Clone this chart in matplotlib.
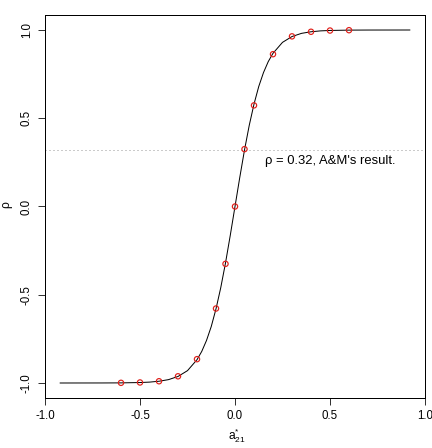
import matplotlib
matplotlib.use("Agg")
import matplotlib.pyplot as plt

# curve
curve_a = [-0.92, -0.7, -0.6, -0.5, -0.45, -0.4, -0.35, -0.3, -0.25, -0.2,
           -0.175, -0.15, -0.125, -0.1, -0.075, -0.05, -0.025, 0.0,
           0.025, 0.05, 0.075, 0.1, 0.125, 0.15, 0.175, 0.2, 0.25, 0.3,
           0.35, 0.4, 0.45, 0.5, 0.6, 0.7, 0.92]
curve_rho = [-1.0, -0.9998, -0.9993, -0.9974, -0.995, -0.990, -0.981, -0.963, -0.930, -0.868,
             -0.821, -0.759, -0.680, -0.580, -0.460, -0.320, -0.164, 0.0,
             0.164, 0.320, 0.460, 0.580, 0.680, 0.759, 0.821, 0.868, 0.930, 0.963,
             0.981, 0.990, 0.995, 0.9974, 0.9993, 0.9998, 1.0]

# simulated points (red circles)
pts_a = [-0.6, -0.5, -0.4, -0.3, -0.2, -0.1, -0.05, 0.0, 0.05, 0.1, 0.2, 0.3, 0.4, 0.5, 0.6]
pts_rho = [-0.999, -0.997, -0.990, -0.962, -0.865, -0.578, -0.325, 0.0,
           0.325, 0.573, 0.863, 0.964, 0.990, 0.997, 0.999]

am_rho = 0.32
x_ticks = [-1.0, -0.5, 0.0, 0.5, 1.0]
y_ticks = [-1.0, -0.5, 0.0, 0.5, 1.0]

plt.rcParams["font.family"] = ["Liberation Sans", "DejaVu Sans"]
plt.rcParams["axes.unicode_minus"] = False

fig = plt.figure(figsize=(432 / 72, 448 / 72), dpi=72)
ax = fig.add_axes([45 / 432, 1 - 398 / 448, 380 / 432, 383 / 448])

ax.plot(curve_a, curve_rho, color="black", lw=1)
ax.scatter(pts_a, pts_rho, s=28, facecolors="none", edgecolors="#e0201b", linewidths=1.2, zorder=3)
ax.axhline(am_rho, color="#999999", lw=1, ls=(0, (1, 3)))
ax.text(0.16, am_rho - 0.03, "\u03c1 = 0.32, A&M's result.", fontsize=13,
        ha="left", va="top")

ax.set_xlim(-0.9936, 0.9936)
ax.set_ylim(-1.085, 1.085)
ax.set_xticks(x_ticks)
ax.set_yticks(y_ticks)
ax.set_xticklabels(["%.1f" % v for v in x_ticks], fontsize=11.5)
ax.set_yticklabels(["%.1f" % v for v in y_ticks], fontsize=11.5, rotation=90, va="center")
ax.tick_params(direction="out", length=7, width=0.8, pad=5)
for s in ax.spines.values():
    s.set_linewidth(1)

fig.text(237 / 432, 1 - 436 / 448, r"$\mathregular{a^{*}_{21}}$", fontsize=12, ha="center", va="center")
fig.text(6 / 432, 1 - 205 / 448, "\u03c1", fontsize=12, rotation=90, ha="center", va="center")

fig.savefig("out.png", dpi=72)
